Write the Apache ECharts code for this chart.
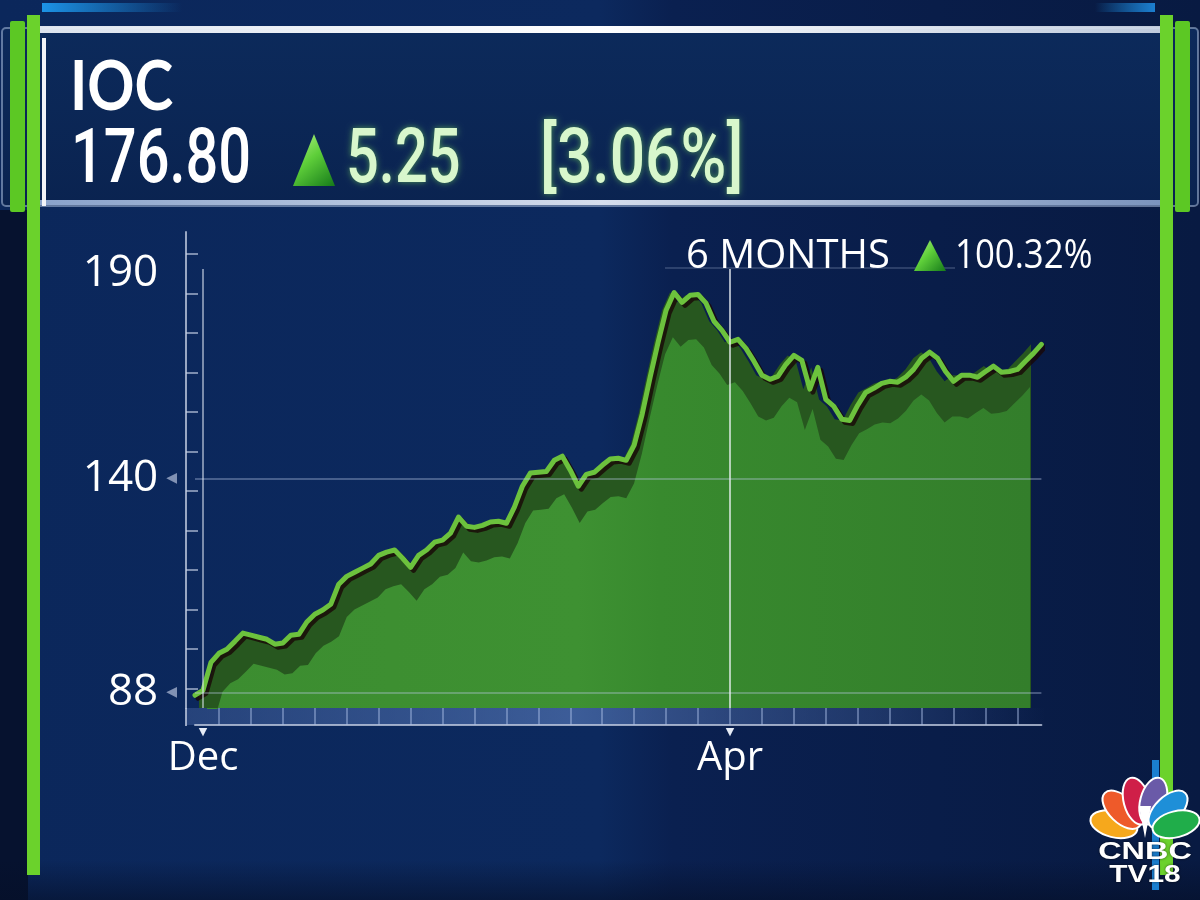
<!DOCTYPE html>
<html>
<head>
<meta charset="utf-8">
<script src="https://cdn.jsdelivr.net/npm/echarts@6/dist/echarts.min.js"></script>
<style>
html,body{margin:0;padding:0;background:#0a1f4a;}
#chart{width:1200px;height:900px;}
</style>
</head>
<body>
<div id="chart"></div>
<script>
// ---- data ----
const priceValues = [
  87.4, 88.6, 95.4, 97.6, 98.6, 100.5, 102.5, 102.0, 101.5, 101.0,
  99.8, 100.1, 102.0, 102.2, 105.2, 107.1, 108.1, 109.5, 114.4, 116.3,
  117.3, 118.3, 119.3, 121.4, 122.2, 122.7, 120.7, 118.5, 121.4, 122.7,
  124.6, 125.1, 126.8, 130.7, 128.5, 128.2, 128.7, 129.5, 129.7, 129.2,
  133.1, 138.2, 141.4, 141.6, 141.8, 144.5, 145.5, 142.1, 138.2, 141.1,
  141.6, 143.3, 144.8, 145.0, 144.5, 148.2, 155.7, 164.7, 173.2, 181.0,
  185.3, 182.9, 184.6, 184.8, 182.7, 178.3, 176.1, 173.2, 173.9, 171.7,
  168.6, 165.2, 164.2, 164.9, 167.8, 170.0, 168.8, 161.8, 167.1, 159.3,
  157.6, 154.5, 154.2, 157.9, 161.0, 162.0, 163.2, 163.7, 163.5, 164.7,
  166.6, 169.3, 170.8, 169.3, 166.1, 163.7, 165.2, 165.2, 164.7, 166.1,
  167.4, 165.9, 166.1, 166.6, 168.6, 170.5, 172.7
];
const sessionCategories = priceValues.map((_, i) => 'S' + (i + 1));
const monthLabels = ['Dec', 'Apr'];
const monthIndex = [1, 67];
const yLabelValues = [88, 140, 190];
const yArrowValues = [88, 140];
const yTickValues = [89, 98.6, 108.2, 117.8, 127.4, 137, 146.6, 156.2, 165.8, 175.4, 185, 194.6];
const stockName = 'IOC';
const lastPrice = '176.80';
const change = '5.25';
const changePct = '[3.06%]';
const periodLabel = '6 MONTHS';
const periodChange = '100.32%';

// ---- styles ----
const GREEN_LINE = '#6cc23d';
const FONT = '"Open Sans", "DejaVu Sans", sans-serif';

const chart = echarts.init(document.getElementById('chart'));

function tri(points, z) {
  return {
    type: 'polygon', z: z || 10, silent: true,
    shape: { points: points },
    style: {
      fill: new echarts.graphic.LinearGradient(0, 0, 1, 1, [
        { offset: 0, color: '#b6f08a' }, { offset: 0.45, color: '#5fcf3a' }, { offset: 1, color: '#157a1a' }
      ])
    }
  };
}

const feathers = [
  { a: -76, c: '#f6a81c' }, { a: -46, c: '#ee5a2a' }, { a: -15, c: '#cf1f48' },
  { a: 15, c: '#6a5aa8' }, { a: 46, c: '#1e8fd8' }, { a: 76, c: '#20ad4a' }
];
const peacock = feathers.map(f => {
  const r = f.a * Math.PI / 180;
  return {
    type: 'ellipse', z: 20, silent: true,
    x: 1145 + 32 * Math.sin(r), y: 832 - 32 * Math.cos(r), rotation: -r,
    shape: { cx: 0, cy: 0, rx: 13, ry: 24 },
    style: { fill: f.c, stroke: '#ffffff', lineWidth: 2 }
  };
});

const graphics = [
  // background
  { type: 'rect', z: -10, silent: true, shape: { x: 0, y: 0, width: 1200, height: 900 },
    style: { fill: new echarts.graphic.LinearGradient(0, 0, 1, 0, [
      { offset: 0, color: '#0b275b' }, { offset: 0.5, color: '#0c295e' },
      { offset: 0.56, color: '#0a2050' }, { offset: 1, color: '#081a42' }]) } },
  { type: 'rect', z: -9, silent: true, shape: { x: 0, y: 210, width: 28, height: 690 }, style: { fill: '#06122f' } },
  { type: 'rect', z: -9, silent: true, shape: { x: 0, y: 860, width: 1200, height: 40 },
    style: { fill: new echarts.graphic.LinearGradient(0, 0, 0, 1, [
      { offset: 0, color: 'rgba(5,15,40,0)' }, { offset: 1, color: 'rgba(5,15,40,0.6)' }]) } },
  // header panel
  { type: 'rect', z: -8, silent: true, shape: { x: 2, y: 28, width: 1196, height: 178, r: 4 },
    style: { fill: new echarts.graphic.LinearGradient(0, 0, 0, 1, [
      { offset: 0, color: '#0c2a5b' }, { offset: 1, color: '#0a2350' }]),
      stroke: 'rgba(170,190,220,0.55)', lineWidth: 2 } },
  { type: 'rect', z: -7, silent: true, shape: { x: 30, y: 26, width: 1140, height: 7 },
    style: { fill: new echarts.graphic.LinearGradient(0, 0, 1, 0, [
      { offset: 0, color: 'rgba(230,236,245,0.95)' }, { offset: 0.5, color: 'rgba(255,255,255,1)' },
      { offset: 1, color: 'rgba(210,220,235,0.9)' }]) } },
  { type: 'rect', z: -7, silent: true, shape: { x: 30, y: 200, width: 1140, height: 5 },
    style: { fill: new echarts.graphic.LinearGradient(0, 0, 1, 0, [
      { offset: 0, color: 'rgba(150,175,215,0.9)' }, { offset: 0.5, color: 'rgba(225,232,245,0.95)' },
      { offset: 1, color: 'rgba(150,175,215,0.8)' }]) } },
  { type: 'rect', z: -7, silent: true, shape: { x: 42, y: 38, width: 4, height: 168 }, style: { fill: '#f2f4f8' } },
  // top blue strips
  { type: 'rect', z: -7, silent: true, shape: { x: 42, y: 3, width: 140, height: 9 },
    style: { fill: new echarts.graphic.LinearGradient(0, 0, 1, 0, [
      { offset: 0, color: '#1c93e6' }, { offset: 1, color: 'rgba(28,147,230,0)' }]) } },
  { type: 'rect', z: -7, silent: true, shape: { x: 1095, y: 3, width: 60, height: 9 },
    style: { fill: new echarts.graphic.LinearGradient(0, 0, 1, 0, [
      { offset: 0, color: 'rgba(28,147,230,0)' }, { offset: 1, color: '#1c7fd0' }]) } },
  // green bars
  { type: 'rect', z: -6, silent: true, shape: { x: 10, y: 21, width: 15, height: 191, r: 2 }, style: { fill: '#5cc824' } },
  { type: 'rect', z: -6, silent: true, shape: { x: 27, y: 15, width: 13, height: 860 }, style: { fill: '#6bd22c' } },
  { type: 'rect', z: -6, silent: true, shape: { x: 1152, y: 760, width: 7, height: 130 }, style: { fill: '#1a7fd0' } },
  { type: 'rect', z: -6, silent: true, shape: { x: 1160, y: 15, width: 13, height: 860 }, style: { fill: '#6bd22c' } },
  { type: 'rect', z: -6, silent: true, shape: { x: 1175, y: 21, width: 15, height: 191, r: 2 }, style: { fill: '#5cc824' } },
  // axis band
  { type: 'rect', z: -1, silent: true, shape: { x: 186, y: 708, width: 860, height: 17 },
    style: { fill: new echarts.graphic.LinearGradient(0, 0, 1, 0, [
      { offset: 0, color: 'rgba(70,100,160,0.45)' }, { offset: 0.45, color: 'rgba(100,135,200,0.55)' },
      { offset: 0.8, color: 'rgba(70,100,160,0.35)' }, { offset: 1, color: 'rgba(70,100,160,0)' }]) } },
  { type: 'line', z: -1, silent: true, shape: { x1: 186, y1: 708, x2: 186, y2: 726 },
    style: { stroke: 'rgba(200,210,230,0.75)', lineWidth: 2 } },
  { type: 'line', z: -1, silent: true, shape: { x1: 665, y1: 268, x2: 955, y2: 268 },
    style: { stroke: 'rgba(200,215,240,0.25)', lineWidth: 1.5 } },
  // header texts
  { type: 'text', z: 10, silent: true, x: 70, y: 88, scaleX: 0.86,
    style: { text: stockName, fill: '#ffffff', font: 'bold 68px Lato, "Open Sans", sans-serif', verticalAlign: 'middle' } },
  { type: 'text', z: 10, silent: true, x: 71, y: 163, scaleX: 0.76,
    style: { text: lastPrice, fill: '#ffffff', font: '500 76px Roboto, sans-serif', verticalAlign: 'middle' } },
  tri([[293, 186], [335, 186], [314, 134]]),
  { type: 'text', z: 10, silent: true, x: 346, y: 163, scaleX: 0.76,
    style: { text: change, fill: '#d8f7cc', font: '500 76px Roboto, sans-serif', verticalAlign: 'middle',
      textShadowColor: 'rgba(120,220,90,0.6)', textShadowBlur: 6 } },
  { type: 'text', z: 10, silent: true, x: 540, y: 163, scaleX: 0.82,
    style: { text: changePct, fill: '#d8f7cc', font: '500 76px Roboto, sans-serif', verticalAlign: 'middle',
      textShadowColor: 'rgba(120,220,90,0.6)', textShadowBlur: 6 } },
  // period change
  { type: 'text', z: 10, silent: true, x: 686, y: 257,
    style: { text: periodLabel, fill: '#ffffff', font: '40px ' + FONT, verticalAlign: 'middle' } },
  tri([[914, 271], [946, 271], [930, 240]]),
  { type: 'text', z: 10, silent: true, x: 955, y: 257, scaleX: 0.87,
    style: { text: periodChange, fill: '#ffffff', font: '40px ' + FONT, verticalAlign: 'middle' } },
  // logo
  ...peacock,
  { type: 'polygon', z: 21, silent: true, shape: { points: [[1145, 838], [1139, 806], [1151, 806]] }, style: { fill: '#ffffff' } },
  { type: 'text', z: 21, silent: true, x: 1145, y: 852, scaleX: 1.35,
    style: { text: 'CNBC', fill: '#ffffff', font: 'bold 24px "Liberation Sans", Arial, sans-serif',
      align: 'center', verticalAlign: 'middle', textShadowColor: 'rgba(0,0,0,0.6)', textShadowBlur: 3 } },
  { type: 'text', z: 21, silent: true, x: 1145, y: 876, scaleX: 1.3,
    style: { text: 'TV18', fill: '#ffffff', font: 'bold 23px "Liberation Sans", Arial, sans-serif',
      align: 'center', verticalAlign: 'middle', textShadowColor: 'rgba(0,0,0,0.6)', textShadowBlur: 3 } }
];

const option = {
  backgroundColor: '#0a1f4a',
  animation: false,
  graphic: { elements: graphics },
  grid: [
    { left: 195, right: 158.6, top: 232, height: 476 },
    { left: 207, right: 170, top: 232, height: 476 },
    { left: 199, right: 169, top: 232, height: 476 }
  ],
  xAxis: [
    {
      type: 'category', gridIndex: 0, data: sessionCategories, boundaryGap: false, offset: 17,
      axisLine: { show: true, lineStyle: { color: 'rgba(200,210,230,0.75)', width: 2 } },
      axisTick: { show: true, inside: true, length: 17, interval: (i) => i % 4 === 3,
        lineStyle: { color: 'rgba(170,190,230,0.45)', width: 2 } },
      axisLabel: {
        interval: (i) => monthIndex.includes(i), margin: 2,
        formatter: (v, i) => '{t|▼}\n{l|' + monthLabels[monthIndex.indexOf(i)] + '}',
        rich: {
          t: { fontSize: 11, color: '#e6ecf6', lineHeight: 10, fontFamily: 'DejaVu Sans' },
          l: { fontSize: 40, color: '#ffffff', lineHeight: 44, fontFamily: FONT }
        }
      },
      splitLine: { show: false }
    },
    { type: 'category', gridIndex: 1, data: sessionCategories, boundaryGap: false, show: false },
    { type: 'category', gridIndex: 2, data: sessionCategories, boundaryGap: false, show: false }
  ],
  yAxis: [
    {
      type: 'value', gridIndex: 0, min: 84.3, max: 200, offset: 9,
      axisLine: { show: true, lineStyle: { color: 'rgba(200,210,230,0.75)', width: 2 } },
      axisTick: { show: true, inside: true, length: 12, customValues: yTickValues,
        lineStyle: { color: 'rgba(200,210,230,0.6)', width: 2 } },
      axisLabel: {
        customValues: yLabelValues, margin: 9,
        formatter: (v) => '{n|' + v + '}' + (yArrowValues.includes(v) ? '{a|◀}' : '{h|◀}'),
        rich: {
          n: { fontSize: 44, color: '#ffffff', fontFamily: FONT, padding: [0, 8, 0, 0] },
          a: { fontSize: 14, color: 'rgba(150,165,195,0.85)', fontFamily: 'DejaVu Sans' },
          h: { fontSize: 14, color: 'rgba(0,0,0,0)', fontFamily: 'DejaVu Sans' }
        }
      },
      splitLine: { show: false }
    },
    { type: 'value', gridIndex: 1, min: 91.3, max: 212, show: false },
    { type: 'value', gridIndex: 2, min: 84.3, max: 200, show: false }
  ],
  series: [
    {
      name: 'shadow', type: 'line', xAxisIndex: 2, yAxisIndex: 2, data: priceValues, z: 1,
      symbol: 'none', silent: true, lineStyle: { opacity: 0 },
      areaStyle: { color: '#27571f', opacity: 1, origin: 'start' }
    },
    {
      name: 'fill', type: 'line', xAxisIndex: 1, yAxisIndex: 1, data: priceValues, z: 2,
      symbol: 'none', silent: true, lineStyle: { opacity: 0 },
      areaStyle: { origin: 'start', opacity: 1, color: new echarts.graphic.LinearGradient(0, 0, 1, 0, [
        { offset: 0, color: '#3c8d30' }, { offset: 0.45, color: '#3e9132' },
        { offset: 0.55, color: '#388a2e' }, { offset: 1, color: '#337e2b' }]) }
    },
    {
      name: 'IOC', type: 'line', xAxisIndex: 0, yAxisIndex: 0, data: priceValues, z: 3,
      symbol: 'none', silent: true,
      lineStyle: { color: GREEN_LINE, width: 5, cap: 'round', join: 'round',
        shadowColor: 'rgba(25,8,6,0.8)', shadowBlur: 0, shadowOffsetX: 3, shadowOffsetY: 3 },
      markLine: {
        silent: true, symbol: 'none', label: { show: false },
        data: [
          { yAxis: 140, lineStyle: { color: 'rgba(190,205,235,0.45)', width: 1.5, type: 'solid' } },
          { yAxis: 88, lineStyle: { color: 'rgba(190,205,235,0.45)', width: 1.5, type: 'solid' } },
          [{ coord: [sessionCategories[monthIndex[0]], 191], lineStyle: { color: 'rgba(225,232,245,0.7)', width: 1.5, type: 'solid' } },
           { coord: [sessionCategories[monthIndex[0]], 84.3] }],
          [{ coord: [sessionCategories[monthIndex[1]], 191], lineStyle: { color: 'rgba(240,244,250,0.9)', width: 1.5, type: 'solid' } },
           { coord: [sessionCategories[monthIndex[1]], 84.3] }]
        ]
      }
    }
  ]
};
chart.setOption(option);
</script>
</body>
</html>
